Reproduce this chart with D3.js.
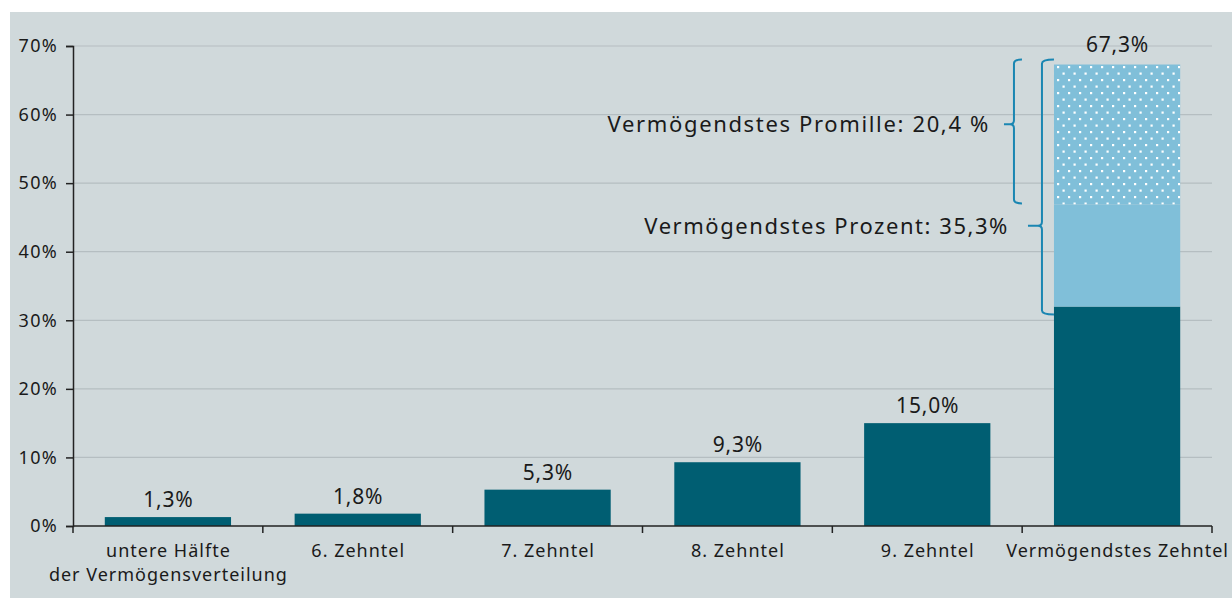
<!DOCTYPE html>
<html>
<head>
<meta charset="utf-8">
<script src="https://cdn.jsdelivr.net/npm/d3@7"></script>
<style>
  body { margin: 0; background: #fff; }
  svg { display: block; font-family: "Noto Sans", sans-serif; }
</style>
</head>
<body>
<svg id="chart"></svg>
<script>
// data
var categories = ["untere Hälfte|der Vermögensverteilung", "6. Zehntel", "7. Zehntel", "8. Zehntel", "9. Zehntel", "Vermögendstes Zehntel"];
var restValues = [1.3, 1.8, 5.3, 9.3, 15.0, 32.0];      // dark part
var topPercentRest = [0, 0, 0, 0, 0, 14.9];              // light part
var topPromille = [0, 0, 0, 0, 0, 20.4];                 // dotted part
var totalLabels = ["1,3%", "1,8%", "5,3%", "9,3%", "15,0%", "67,3%"];
var yTicks = [0, 10, 20, 30, 40, 50, 60, 70];
var noteLabels = ["Vermögendstes Promille: 20,4 %", "Vermögendstes Prozent: 35,3%"];

var width = 1232, height = 599;
var margin = {top: 46, right: 20, bottom: 73, left: 73};

var svg = d3.select("#chart").attr("width", width).attr("height", height);

// background panel
svg.append("rect")
    .attr("x", 10).attr("y", 12)
    .attr("width", width - 10).attr("height", 586)
    .attr("fill", "#d0d9db");

var defs = svg.append("defs");
var pat = defs.append("pattern")
    .attr("id", "dots")
    .attr("patternUnits", "userSpaceOnUse")
    .attr("width", 11).attr("height", 13);
pat.append("rect").attr("width", 11).attr("height", 13).attr("fill", "#80bfd9");
pat.append("rect").attr("x", 1).attr("y", 1).attr("width", 2.2).attr("height", 2.2).attr("fill", "#fff");
pat.append("rect").attr("x", 6.5).attr("y", 7.5).attr("width", 2.2).attr("height", 2.2).attr("fill", "#fff");

var x = d3.scaleBand()
    .domain(categories)
    .range([margin.left, width - margin.right])
    .paddingInner(0.335)
    .paddingOuter(0.1675);

var y = d3.scaleLinear()
    .domain([0, 70])
    .range([height - margin.bottom, margin.top]);

// grid
svg.append("g")
    .selectAll("line")
    .data(yTicks.slice(1))
    .enter().append("line")
    .attr("x1", margin.left).attr("x2", width - margin.right)
    .attr("y1", function(d) { return y(d); })
    .attr("y2", function(d) { return y(d); })
    .attr("stroke", "#b5bec1")
    .attr("stroke-width", 1.2);

// stacked bars
var table = categories.map(function(c, i) {
    return {cat: c, rest: restValues[i], pct: topPercentRest[i], prom: topPromille[i]};
});
var stack = d3.stack().keys(["rest", "pct", "prom"])(table);
var fills = {rest: "#005e72", pct: "#80bfd9", prom: "url(#dots)"};

svg.append("g").selectAll("g")
    .data(stack)
    .enter().append("g")
    .attr("fill", function(s) { return fills[s.key]; })
    .selectAll("rect")
    .data(function(s) { return s.filter(function(d) { return d[1] - d[0] > 0; }); })
    .enter().append("rect")
    .attr("x", function(d) { return x(d.data.cat); })
    .attr("width", x.bandwidth())
    .attr("y", function(d) { return y(d[1]); })
    .attr("height", function(d) { return y(d[0]) - y(d[1]); });

// value labels (stacked bar label sits a bit higher)
svg.append("g").selectAll("text")
    .data(table)
    .enter().append("text")
    .attr("x", function(d) { return x(d.cat) + x.bandwidth() / 2 + 0.4; })
    .attr("y", function(d) { return y(d.rest + d.pct + d.prom) - (d.prom > 0 ? 13 : 10); })
    .attr("text-anchor", "middle")
    .attr("font-size", 21)
    .attr("letter-spacing", 0.8)
    .attr("fill", "#1a1a1a")
    .text(function(d, i) { return totalLabels[i]; });

// y axis
var yAxis = svg.append("g")
    .attr("transform", "translate(" + margin.left + ",0)")
    .call(d3.axisLeft(y).tickValues(yTicks).tickSize(7).tickPadding(8)
        .tickFormat(function(d) { return d + "%"; }));
yAxis.selectAll("text").attr("font-size", 18).attr("letter-spacing", 1.3)
    .attr("fill", "#1a1a1a").attr("font-family", "Noto Sans");
yAxis.selectAll("line, path").attr("stroke", "#222").attr("stroke-width", 1.5);

// x axis (ticks at band edges)
var xAxisG = svg.append("g").attr("transform", "translate(0," + y(0) + ")");
xAxisG.append("line")
    .attr("x1", margin.left).attr("x2", width - margin.right)
    .attr("stroke", "#222").attr("stroke-width", 1.5);
var step = x.step();
var edges = d3.range(categories.length + 1).map(function(i) { return margin.left + i * step; });
xAxisG.selectAll(".edge")
    .data(edges)
    .enter().append("line")
    .attr("x1", function(d) { return d; }).attr("x2", function(d) { return d; })
    .attr("y1", 0).attr("y2", 7)
    .attr("stroke", "#222").attr("stroke-width", 1.5);

xAxisG.selectAll(".lbl")
    .data(categories)
    .enter().append("text")
    .attr("text-anchor", "middle")
    .attr("font-size", 18)
    .attr("letter-spacing", 1)
    .attr("fill", "#1a1a1a")
    .attr("transform", function(d) { return "translate(" + (x(d) + x.bandwidth() / 2 + 0.5) + ",31)"; })
    .each(function(d) {
        var t = d3.select(this);
        d.split("|").forEach(function(line, i) {
            t.append("tspan").attr("x", 0).attr("dy", i === 0 ? 0 : 24).text(line);
        });
    });

// brackets for the top decile
var last = table[table.length - 1];
var bx = x(last.cat);
var total = last.rest + last.pct + last.prom;
var blue = "#1a86b2";

function bracket(xv, yTop, yBot, yMid, hook, tip) {
    var r = 4;
    return "M" + (xv + hook) + "," + yTop +
        " Q" + xv + "," + yTop + " " + xv + "," + (yTop + r) +
        " L" + xv + "," + (yMid - r) +
        " Q" + xv + "," + yMid + " " + (xv - r) + "," + yMid +
        " L" + (xv - tip) + "," + yMid +
        " M" + (xv - r) + "," + yMid +
        " Q" + xv + "," + yMid + " " + xv + "," + (yMid + r) +
        " L" + xv + "," + (yBot - r) +
        " Q" + xv + "," + yBot + " " + (xv + hook) + "," + yBot;
}

// Promille bracket
var p1Top = y(total) - 5, p1Bot = y(last.rest + last.pct) - 1;
var p1Mid = y(58.6);
svg.append("path")
    .attr("d", bracket(bx - 40, p1Top, p1Bot, p1Mid, 8, 10))
    .attr("fill", "none").attr("stroke", blue).attr("stroke-width", 2);

// Prozent bracket
var p2Top = y(total) - 5, p2Bot = y(last.rest) + 8;
var p2Mid = y(43.8);
svg.append("path")
    .attr("d", bracket(bx - 12, p2Top, p2Bot, p2Mid, 12, 14))
    .attr("fill", "none").attr("stroke", blue).attr("stroke-width", 2);

svg.append("text")
    .attr("x", bx - 64).attr("y", p1Mid + 8)
    .attr("text-anchor", "end").attr("font-size", 22).attr("letter-spacing", 1.65)
    .attr("fill", "#1a1a1a")
    .text(noteLabels[0]);
svg.append("text")
    .attr("x", bx - 45).attr("y", p2Mid + 8)
    .attr("text-anchor", "end").attr("font-size", 22).attr("letter-spacing", 1.55)
    .attr("fill", "#1a1a1a")
    .text(noteLabels[1]);
</script>
</body>
</html>
